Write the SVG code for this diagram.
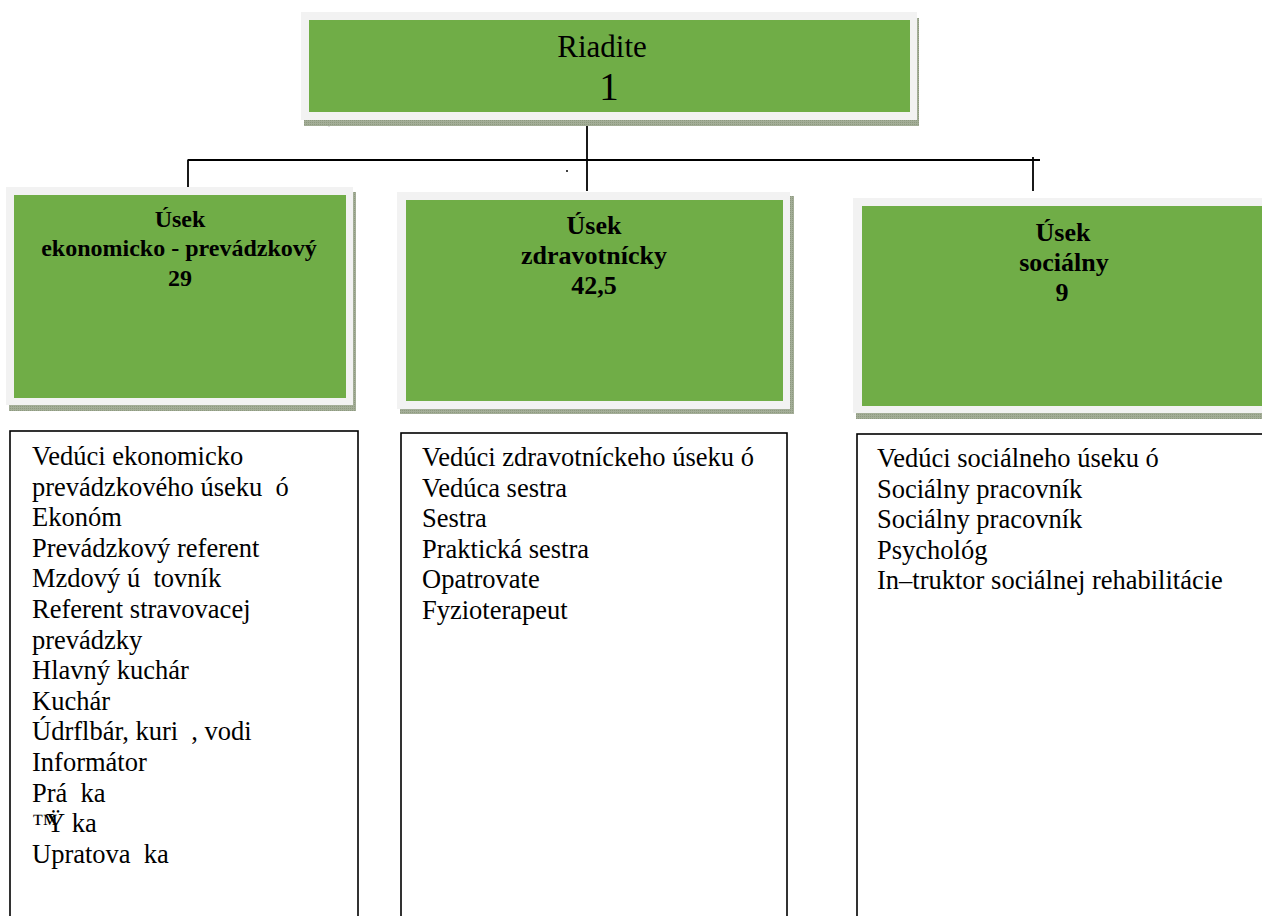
<svg xmlns="http://www.w3.org/2000/svg" width="1262" height="916" viewBox="0 0 1262 916">
<defs>
<pattern id="hatch" width="2" height="2" patternUnits="userSpaceOnUse">
<rect width="2" height="2" fill="#a3ad97"/>
<rect width="1" height="1" fill="#8e9a80"/>
</pattern>
<style>
.shadow{fill:url(#hatch);}
.frame{fill:#f2f2f2;}
.green{fill:#70ad47;}
.serif{font-family:'Liberation Serif','Tinos','Times New Roman','DejaVu Serif',serif;}
.head{font-weight:bold;fill:#000;text-anchor:middle;}
.list{font-size:26.5px;fill:#000;white-space:pre;}
.box{fill:#fff;stroke:#000;stroke-width:1.6;}
.conn{stroke:#000;stroke-width:1.8;fill:none;}
</style>
</defs>
<rect width="1262" height="916" fill="#fff"/>

<g id="connectors">
<line class="conn" x1="587" y1="120" x2="587" y2="191"/>
<line class="conn" x1="188" y1="160" x2="1040" y2="160"/>
<line class="conn" x1="587" y1="160" x2="727" y2="160" stroke-width="2.6"/>
<line class="conn" x1="188" y1="159.5" x2="188" y2="195"/>
<line class="conn" x1="1033" y1="157" x2="1033" y2="191"/>
<circle cx="567" cy="171" r="1" fill="#000"/>
<circle cx="329" cy="125" r="1.2" fill="#000"/>
</g>

<g id="node-riaditel">
<rect class="shadow" x="304" y="18" width="615" height="108"/>
<rect class="frame" x="301" y="12" width="616" height="108"/>
<rect class="green" x="309" y="20" width="601" height="92"/>
<text class="serif" x="602" y="57" font-size="31" text-anchor="middle">Riadite</text>
<text class="serif" x="609" y="100" font-size="39" text-anchor="middle">1</text>
</g>

<g id="node-ekonomicky">
<rect class="shadow" x="9" y="192" width="347" height="219"/>
<rect class="frame" x="6" y="187" width="347" height="218"/>
<rect class="green" x="14" y="195" width="332" height="203"/>
<text class="serif head" font-size="24" x="180" y="227">Úsek</text>
<text class="serif head" font-size="24" x="179" y="256">ekonomicko - prevádzkový</text>
<text class="serif head" font-size="24" x="180" y="286">29</text>
</g>

<g id="node-zdravotnicky">
<rect class="shadow" x="400" y="196" width="394" height="218"/>
<rect class="frame" x="397" y="192" width="393" height="217"/>
<rect class="green" x="406" y="200" width="377" height="201"/>
<text class="serif head" font-size="26" x="594" y="234">Úsek</text>
<text class="serif head" font-size="26" x="594" y="264">zdravotnícky</text>
<text class="serif head" font-size="26" x="594" y="294">42,5</text>
</g>

<g id="node-socialny">
<rect class="shadow" x="856" y="202" width="420" height="217"/>
<rect class="frame" x="853" y="198" width="420" height="215"/>
<rect class="green" x="862" y="206" width="410" height="200"/>
<text class="serif head" font-size="26" x="1063" y="241">Úsek</text>
<text class="serif head" font-size="26" x="1064" y="271">sociálny</text>
<text class="serif head" font-size="26" x="1062" y="301">9</text>
</g>

<g id="list-ekonomicky">
<rect class="box" x="10" y="431" width="348" height="500"/>
<text class="serif list" x="32" y="465">Vedúci ekonomicko</text>
<text class="serif list" x="32" y="495.6">prevádzkového úseku  ó</text>
<text class="serif list" x="32" y="526.2">Ekonóm</text>
<text class="serif list" x="32" y="556.8">Prevádzkový referent</text>
<text class="serif list" x="32" y="587.4">Mzdový ú  tovník</text>
<text class="serif list" x="32" y="618">Referent stravovacej</text>
<text class="serif list" x="32" y="648.6">prevádzky</text>
<text class="serif list" x="32" y="679.2">Hlavný kuchár</text>
<text class="serif list" x="32" y="709.8">Kuchár</text>
<text class="serif list" x="32" y="740.4">Údrflbár, kuri  , vodi</text>
<text class="serif list" x="32" y="771">Informátor</text>
<text class="serif list" x="32" y="801.6">Prá  ka</text>
<text class="serif list" x="32" y="832.2">™<tspan dx="-12">Ÿ</tspan> ka</text>
<text class="serif list" x="32" y="862.8">Upratova  ka</text>
</g>

<g id="list-zdravotnicky">
<rect class="box" x="401" y="433" width="386" height="500"/>
<text class="serif list" x="422" y="466">Vedúci zdravotníckeho úseku ó</text>
<text class="serif list" x="422" y="496.5">Vedúca sestra</text>
<text class="serif list" x="422" y="527">Sestra</text>
<text class="serif list" x="422" y="557.5">Praktická sestra</text>
<text class="serif list" x="422" y="588">Opatrovate</text>
<text class="serif list" x="422" y="618.5">Fyzioterapeut</text>
</g>

<g id="list-socialny">
<rect class="box" x="857" y="434" width="420" height="500"/>
<text class="serif list" x="877" y="467">Vedúci sociálneho úseku ó</text>
<text class="serif list" x="877" y="497.5">Sociálny pracovník</text>
<text class="serif list" x="877" y="528">Sociálny pracovník</text>
<text class="serif list" x="877" y="558.5">Psychológ</text>
<text class="serif list" x="877" y="589">In–truktor sociálnej rehabilitácie</text>
</g>
</svg>
